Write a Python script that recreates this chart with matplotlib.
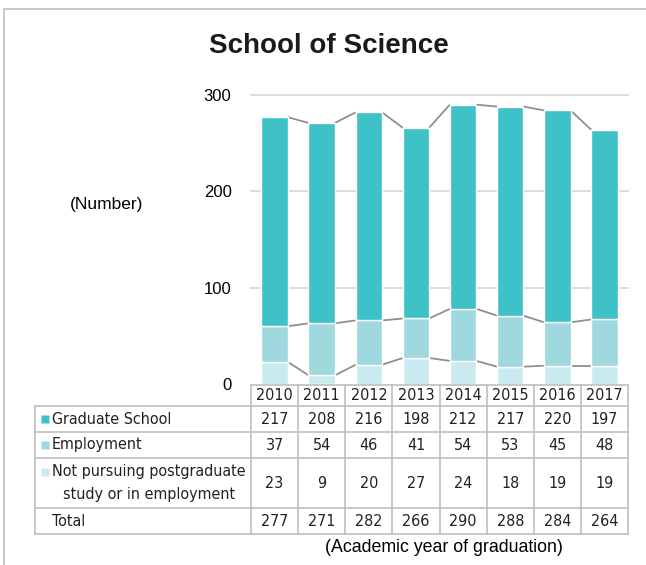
import numpy as np
import matplotlib
matplotlib.use("Agg")
import matplotlib.pyplot as plt
from matplotlib.patches import Rectangle

years = ["2010", "2011", "2012", "2013", "2014", "2015", "2016", "2017"]
graduate_school = [217, 208, 216, 198, 212, 217, 220, 197]
employment = [37, 54, 46, 41, 54, 53, 45, 48]
not_pursuing = [23, 9, 20, 27, 24, 18, 19, 19]
totals = [277, 271, 282, 266, 290, 288, 284, 264]
row_labels = ["Graduate School", "Employment",
              "Not pursuing postgraduate\nstudy or in employment", "Total"]
y_ticks = [0, 100, 200, 300]

c_gs = "#3EC1C7"
c_emp = "#A0D9DD"
c_np = "#C9EAEE"
grid_c = "#D9D9D9"
border_c = "#BFBFBF"
series_c = "#8F8F8F"

W, H = 646, 565
fig = plt.figure(figsize=(W / 100, H / 100), dpi=100)

def px(x0, y0, x1, y1):
    # pixel box (top-left origin) -> figure fraction rect
    return [x0 / W, 1 - y1 / H, (x1 - x0) / W, (y1 - y0) / H]

# outer chart frame
fig.patches.append(Rectangle((4 / W, -0.1), 1.2, 1 - 9 / H + 0.1, transform=fig.transFigure,
                             fill=False, edgecolor=border_c, lw=1.2))

fig.text(329 / W, 1 - 46 / H, "School of Science", ha="center", va="center",
         fontsize=20, fontweight="bold", family="Liberation Sans", color="#1a1a1a")

ax = fig.add_axes(px(251, 95, 628, 384))
x = np.arange(len(years))
gs = np.array(graduate_school)
emp = np.array(employment)
npu = np.array(not_pursuing)
w = 0.56
ax.bar(x, npu, width=w, color=c_np, edgecolor="white", lw=1, zorder=3)
ax.bar(x, emp, width=w, bottom=npu, color=c_emp, edgecolor="white", lw=1, zorder=3)
ax.bar(x, gs, width=w, bottom=npu + emp, color=c_gs, edgecolor="white", lw=1, zorder=3)

# series lines between bars
for level in [npu, npu + emp, npu + emp + gs]:
    for i in range(len(x) - 1):
        ax.plot([x[i] + w / 2, x[i + 1] - w / 2], [level[i], level[i + 1]],
                color=series_c, lw=1.3, zorder=2, solid_capstyle="butt")

ax.set_xlim(-0.5, len(years) - 0.5)
ax.set_ylim(0, 300)
ax.set_yticks(y_ticks)
ax.set_xticks([])
for t in y_ticks[1:]:
    ax.axhline(t, color=grid_c, lw=1.3, zorder=1, clip_on=False)
for s in ax.spines.values():
    s.set_visible(False)
ax.tick_params(axis="y", length=0, pad=14, labelsize=12)
for lab in ax.get_yticklabels():
    lab.set_family("Liberation Sans")
fig.text(107 / W, 1 - 205 / H, "(Number)", ha="center", va="center",
         fontsize=12.5, family="Liberation Sans")

# data table under the plot
col_w = (628 - 251) / len(years)
left_edge = -0.5 - (251 - 35) / col_w
rows_y = [385, 406, 432, 458, 508, 534]
tax = fig.add_axes(px(35, 385, 628, 534))
tax.set_xlim(left_edge, len(years) - 0.5)
tax.set_ylim(534, 385)
tax.axis("off")

tfont = dict(family="DejaVu Sans", stretch="condensed", fontsize=11.5, color="#222222")

tax.plot([-0.5, len(years) - 0.5], [385, 385], color=border_c, lw=1.2, clip_on=False)
for yy in rows_y[1:]:
    tax.plot([left_edge, len(years) - 0.5], [yy, yy], color=border_c, lw=1.2, clip_on=False)
for i in range(len(years) + 1):
    tax.plot([i - 0.5, i - 0.5], [385, 534], color=border_c, lw=1.2, clip_on=False)
tax.plot([left_edge, left_edge], [406, 534], color=border_c, lw=1.2, clip_on=False)

for i, yr in enumerate(years):
    tax.text(i, (rows_y[0] + rows_y[1]) / 2, yr, ha="center", va="center", **tfont)

table_rows = [graduate_school, employment, not_pursuing, totals]
marker_colors = [c_gs, c_emp, c_np, None]
for r, (lab, vals, mc) in enumerate(zip(row_labels, table_rows, marker_colors)):
    yc = (rows_y[r + 1] + rows_y[r + 2]) / 2
    for i, v in enumerate(vals):
        tax.text(i, yc, str(v), ha="center", va="center", **tfont)
    lx = left_edge + 17 / col_w
    if mc is not None:
        tax.plot([left_edge + 10 / col_w], [yc - (11 if "\n" in lab else 0)], marker="s",
                 ms=5.2, color=mc, mec="none", clip_on=False)
        tax.text(lx, yc, lab, ha="left", va="center", multialignment="center",
                 linespacing=1.6, **tfont)
    else:
        tax.text(lx, yc, lab, ha="left", va="center", **tfont)

fig.text(444 / W, 1 - 548 / H, "(Academic year of graduation)", ha="center", va="center",
         fontsize=12.8, family="Liberation Sans")

fig.savefig("out.png", dpi=100)
